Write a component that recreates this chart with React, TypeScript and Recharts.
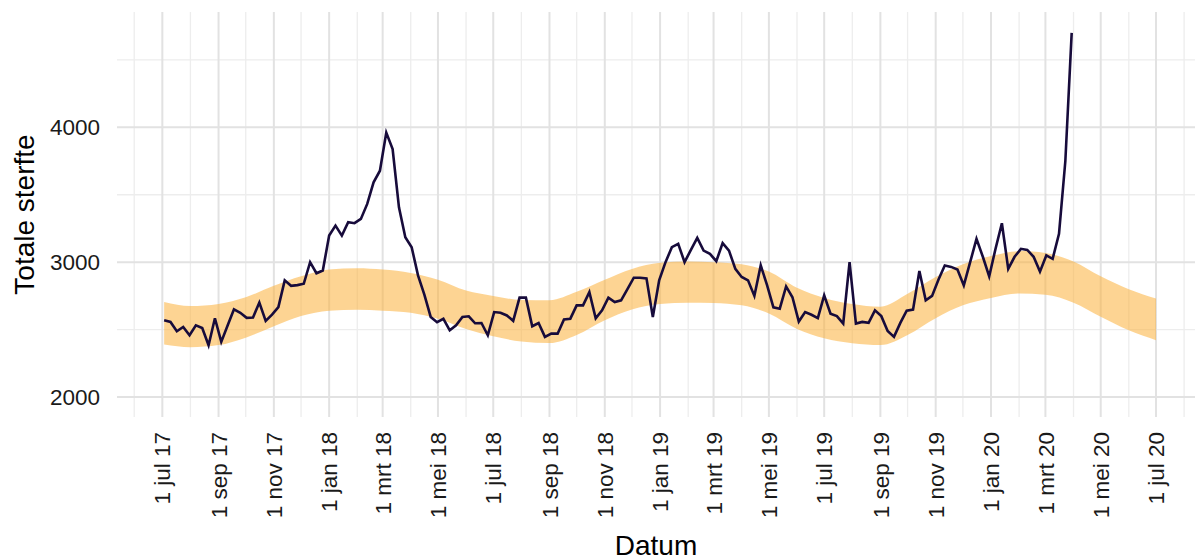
import { ComposedChart, Area, Line, XAxis, YAxis, ReferenceLine } from "recharts";

const FONT = '"Liberation Sans", Arial, Helvetica, sans-serif';

// days since 1 jul 2017
const day = (s: string) => (Date.parse(s) - Date.parse("2017-07-01")) / 864e5;

const firstWeek = "2017-07-03";
const weeklyDeaths = [
  2569, 2557, 2488, 2520, 2458, 2532, 2512, 2384, 2584, 2409,
  2530, 2650, 2625, 2587, 2590, 2701, 2565, 2611, 2667, 2865,
  2825, 2830, 2840, 3000, 2918, 2938, 3197, 3271, 3197, 3296,
  3289, 3321, 3432, 3592, 3678, 3961, 3838, 3407, 3185, 3111,
  2902, 2760, 2594, 2555, 2580, 2495, 2532, 2594, 2599, 2547,
  2549, 2458, 2630, 2625, 2605, 2565, 2737, 2737, 2525, 2549,
  2446, 2470, 2470, 2576, 2581, 2680, 2680, 2778, 2584, 2643,
  2737, 2704, 2717, 2800, 2885, 2885, 2880, 2594, 2865, 3000,
  3111, 3136, 3000, 3091, 3180, 3086, 3062, 3008, 3141, 3086,
  2950, 2890, 2865, 2750, 2976, 2830, 2665, 2655, 2820, 2740,
  2560, 2630, 2610, 2585, 2754, 2618, 2600, 2545, 3000, 2545,
  2557, 2550, 2643, 2600, 2490, 2446, 2550, 2640, 2648, 2934,
  2717, 2750, 2870, 2976, 2965, 2945, 2828, 3000, 3173, 3040,
  2894, 3100, 3289, 2950, 3040, 3099, 3091, 3040, 2930, 3050,
  3025, 3210, 3750, 4700,
];

const bandDates = [
  "2017-07-03", "2017-08-01", "2017-09-01", "2017-10-01", "2017-11-01", "2017-12-01",
  "2018-01-01", "2018-02-01", "2018-03-01", "2018-04-01", "2018-05-01", "2018-06-01",
  "2018-07-01", "2018-08-01", "2018-09-01", "2018-10-01", "2018-11-01", "2018-12-01",
  "2019-01-01", "2019-02-01", "2019-03-01", "2019-04-01", "2019-05-01", "2019-06-01",
  "2019-07-01", "2019-08-01", "2019-09-01", "2019-10-01", "2019-11-01", "2019-12-01",
  "2020-01-01", "2020-02-01", "2020-03-01", "2020-04-01", "2020-05-01", "2020-06-01",
  "2020-07-01",
];
const bandLow = [
  2390, 2370, 2385, 2440, 2525, 2600, 2640, 2648, 2640, 2625, 2580, 2505,
  2450, 2412, 2400, 2460, 2570, 2650, 2690, 2700, 2698, 2680, 2620, 2505,
  2435, 2398, 2385, 2460, 2585, 2680, 2735, 2768, 2758, 2700, 2595, 2495,
  2422,
];
const bandHigh = [
  2705, 2675, 2690, 2740, 2825, 2895, 2945, 2955, 2945, 2920, 2870, 2790,
  2750, 2720, 2718, 2780, 2870, 2950, 2995, 3005, 3000, 2985, 2930, 2810,
  2735, 2690, 2670, 2765, 2890, 2985, 3045, 3082, 3068, 3005, 2895, 2800,
  2730,
];

const tickDates = [
  "2017-07-01", "2017-09-01", "2017-11-01", "2018-01-01", "2018-03-01", "2018-05-01",
  "2018-07-01", "2018-09-01", "2018-11-01", "2019-01-01", "2019-03-01", "2019-05-01",
  "2019-07-01", "2019-09-01", "2019-11-01", "2020-01-01", "2020-03-01", "2020-05-01",
  "2020-07-01",
];
const tickLabels = [
  "1 jul 17", "1 sep 17", "1 nov 17", "1 jan 18", "1 mrt 18", "1 mei 18",
  "1 jul 18", "1 sep 18", "1 nov 18", "1 jan 19", "1 mrt 19", "1 mei 19",
  "1 jul 19", "1 sep 19", "1 nov 19", "1 jan 20", "1 mrt 20", "1 mei 20",
  "1 jul 20",
];
const minorDates = [
  "2017-05-31", "2017-08-01", "2017-10-01", "2017-12-01", "2018-02-01", "2018-04-01",
  "2018-06-01", "2018-08-01", "2018-10-01", "2018-12-01", "2019-02-01", "2019-04-01",
  "2019-06-01", "2019-08-01", "2019-10-01", "2019-12-01", "2020-02-01", "2020-04-01",
  "2020-06-01", "2020-08-01",
];
const yMajor = [2000, 3000, 4000];
const yMinor = [2500, 3500, 4500];

const lineData = weeklyDeaths.map((v, i) => ({ t: day(firstWeek) + 7 * i, sterfte: v }));
const bandData = bandDates.map((d, i) => ({ t: day(d), band: [bandLow[i], bandHigh[i]] }));
const majorX = tickDates.map(day);
const minorX = minorDates.map(day);

const MINOR = "#ededed";
const MAJOR = "#e2e2e2";

const XTick = (props: any) => {
  const { x, y, payload } = props;
  const idx = majorX.indexOf(payload.value);
  return (
    <text
      transform={`translate(${x},${y}) rotate(-90)`}
      textAnchor="end"
      dy="0.36em"
      fontSize={22.5}
      fill="#1a1a1a"
      fontFamily={FONT}
    >
      {tickLabels[idx]}
    </text>
  );
};

export default function App() {
  return (
    <div style={{ position: "absolute", left: 0, top: 0, background: "#fff" }}>
      <ComposedChart width={1203} height={560} margin={{ top: 12, right: 8, bottom: 0, left: 0 }}>
        <XAxis
          type="number"
          dataKey="t"
          domain={[-50, 1139]}
          allowDataOverflow
          ticks={majorX}
          interval={0}
          axisLine={false}
          tickLine={false}
          tickSize={0}
          tickMargin={15}
          height={143}
          tick={<XTick />}
          label={{ value: "Datum", position: "insideBottom", offset: 5, fontSize: 28, fill: "#000", fontFamily: FONT }}
        />
        <YAxis
          type="number"
          domain={[1852, 4855]}
          allowDataOverflow
          ticks={yMajor}
          axisLine={false}
          tickLine={false}
          tickSize={0}
          tickMargin={17}
          width={117}
          tick={{ fontSize: 22.5, fill: "#1a1a1a", fontFamily: FONT }}
          label={{
            value: "Totale sterfte",
            angle: -90,
            position: "insideLeft",
            offset: 24,
            fontSize: 28,
            fill: "#000",
            fontFamily: FONT,
            style: { textAnchor: "middle" },
          }}
        />
        {yMinor.map((v) => (
          <ReferenceLine key={`ym${v}`} y={v} stroke={MINOR} strokeWidth={1.3} zIndex={-100} />
        ))}
        {minorX.map((v) => (
          <ReferenceLine key={`xm${v}`} x={v} stroke={MINOR} strokeWidth={1.3} zIndex={-100} />
        ))}
        {yMajor.map((v) => (
          <ReferenceLine key={`yM${v}`} y={v} stroke={MAJOR} strokeWidth={2} zIndex={-90} />
        ))}
        {majorX.map((v) => (
          <ReferenceLine key={`xM${v}`} x={v} stroke={MAJOR} strokeWidth={2} zIndex={-90} />
        ))}
        <Area
          data={bandData}
          dataKey="band"
          type="monotone"
          stroke="none"
          fill="#fbb03b"
          fillOpacity={0.55}
          isAnimationActive={false}
        />
        <Line
          data={lineData}
          dataKey="sterfte"
          type="linear"
          stroke="#170b3b"
          strokeWidth={2.6}
          dot={false}
          isAnimationActive={false}
        />
      </ComposedChart>
    </div>
  );
}
